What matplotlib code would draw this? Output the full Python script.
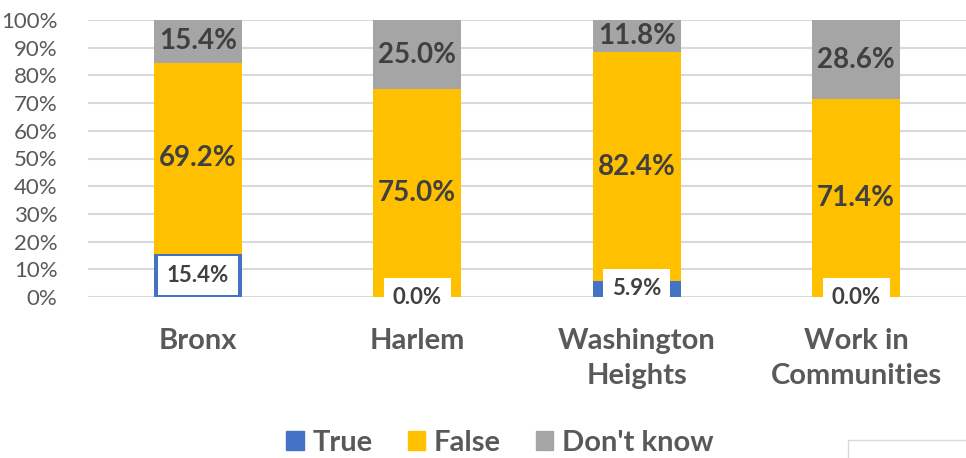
import matplotlib
matplotlib.use("Agg")
import matplotlib.pyplot as plt
from matplotlib.patches import Rectangle, Patch

plt.rcParams['font.family'] = ['Lato', 'DejaVu Sans']

categories = ["Bronx", "Harlem", "Washington\nHeights", "Work in\nCommunities"]
true_vals = [15.4, 0.0, 5.9, 0.0]
false_vals = [69.2, 75.0, 82.4, 71.4]
dont_know_vals = [15.4, 25.0, 11.8, 28.6]
y_ticks = [0, 10, 20, 30, 40, 50, 60, 70, 80, 90, 100]

blue = "#4472c4"
orange = "#ffc000"
grey = "#a5a5a5"
text_col = "#404040"
axis_col = "#595959"

fig = plt.figure(figsize=(9.66, 4.58), dpi=100, facecolor="white")
ax = fig.add_axes([88 / 966, 1 - 297 / 458, 1 - 88 / 966, 277 / 458])

x = list(range(len(categories)))
w = 0.40
ax.bar(x, true_vals, w, color=blue, zorder=3)
bottom2 = true_vals
ax.bar(x, false_vals, w, bottom=bottom2, color=orange, zorder=3)
bottom3 = [a + b for a, b in zip(true_vals, false_vals)]
ax.bar(x, dont_know_vals, w, bottom=bottom3, color=grey, zorder=3)

# labels
for i in x:
    ax.text(i, bottom2[i] + false_vals[i] / 2, f"{false_vals[i]:.1f}%", ha="center", va="center",
            fontsize=20, fontweight="bold", color=text_col, zorder=5)
    ax.text(i, bottom3[i] + dont_know_vals[i] / 2, f"{dont_know_vals[i]:.1f}%", ha="center", va="center",
            fontsize=20, fontweight="bold", color=text_col, zorder=5)
    ax.text(i, true_vals[i] / 2, f"{true_vals[i]:.1f}%", ha="center", va="center",
            fontsize=16, fontweight="bold", color=text_col, zorder=5,
            bbox=dict(boxstyle="square,pad=0.4", facecolor="white", edgecolor="none"))

ax.set_xlim(-0.5, 3.5)
ax.set_ylim(0, 100)
ax.set_yticks(y_ticks)
ax.set_yticklabels([f"{t}%" for t in y_ticks])
ax.set_xticks(x)
ax.set_xticklabels(categories, fontsize=21, fontweight="bold", color=axis_col, linespacing=1.45)
ax.tick_params(axis="y", length=0, pad=22, labelsize=16, labelcolor=axis_col)
ax.tick_params(axis="x", length=0, pad=22)
ax.grid(axis="y", color="#d9d9d9", linewidth=1.5, zorder=0)
ax.set_axisbelow(True)
for s in ax.spines.values():
    s.set_visible(False)

handles = [Patch(color=blue, label="True"), Patch(color=orange, label="False"),
           Patch(color=grey, label="Don't know")]
fig.legend(handles=handles, loc="center", bbox_to_anchor=(500 / 966, 1 - 443 / 458), ncol=3,
           frameon=False, prop={"size": 21, "weight": "bold"}, labelcolor=axis_col,
           handlelength=0.6, handleheight=0.6, handletextpad=0.3, columnspacing=1.2)

# small box cut off at the bottom right
fig.patches.append(Rectangle((848 / 966, -0.05), 0.2, 0.05 + 18 / 458, transform=fig.transFigure,
                             facecolor="white", edgecolor="#d9d9d9", linewidth=1))

fig.savefig("out.png", dpi=100)
